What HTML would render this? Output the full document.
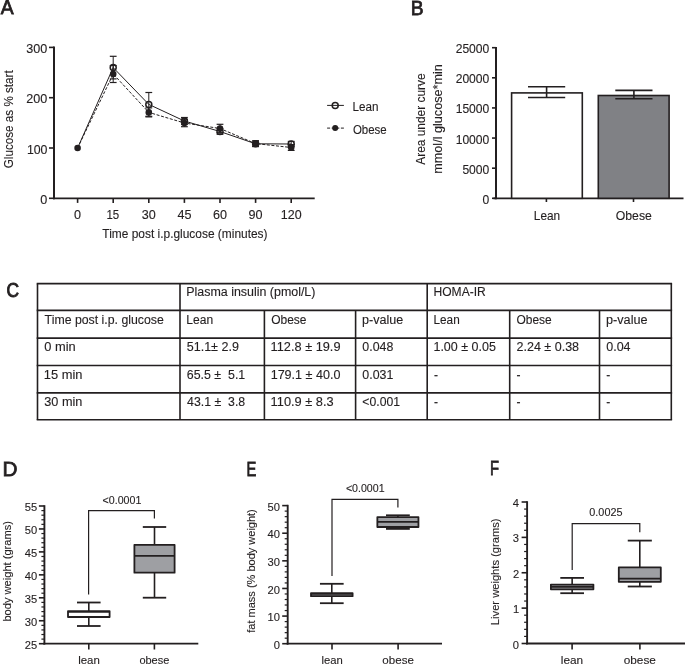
<!DOCTYPE html>
<html><head><meta charset="utf-8"><style>
html,body{margin:0;padding:0;background:#fff;overflow:hidden;}
svg{display:block;will-change:transform;font-family:"Liberation Sans",sans-serif;}
</style></head><body>
<svg width="685" height="665" viewBox="0 0 685 665">
<rect width="685" height="665" fill="#fff"/>
<line x1="54.00" y1="46.60" x2="54.00" y2="199.20" stroke="#231f20" stroke-width="2.0" />
<line x1="53.00" y1="198.30" x2="314.70" y2="198.30" stroke="#231f20" stroke-width="1.8" />
<line x1="49.00" y1="198.30" x2="54.00" y2="198.30" stroke="#231f20" stroke-width="1.6" />
<line x1="49.00" y1="148.00" x2="54.00" y2="148.00" stroke="#231f20" stroke-width="1.6" />
<line x1="49.00" y1="97.70" x2="54.00" y2="97.70" stroke="#231f20" stroke-width="1.6" />
<line x1="49.00" y1="47.40" x2="54.00" y2="47.40" stroke="#231f20" stroke-width="1.6" />
<line x1="77.60" y1="198.30" x2="77.60" y2="202.90" stroke="#231f20" stroke-width="1.6" />
<line x1="113.20" y1="198.30" x2="113.20" y2="202.90" stroke="#231f20" stroke-width="1.6" />
<line x1="148.80" y1="198.30" x2="148.80" y2="202.90" stroke="#231f20" stroke-width="1.6" />
<line x1="184.40" y1="198.30" x2="184.40" y2="202.90" stroke="#231f20" stroke-width="1.6" />
<line x1="220.00" y1="198.30" x2="220.00" y2="202.90" stroke="#231f20" stroke-width="1.6" />
<line x1="255.60" y1="198.30" x2="255.60" y2="202.90" stroke="#231f20" stroke-width="1.6" />
<line x1="291.20" y1="198.30" x2="291.20" y2="202.90" stroke="#231f20" stroke-width="1.6" />
<line x1="113.20" y1="56.30" x2="113.20" y2="78.90" stroke="#231f20" stroke-width="1.0" />
<line x1="109.80" y1="56.30" x2="116.60" y2="56.30" stroke="#231f20" stroke-width="1.2" />
<line x1="109.80" y1="78.90" x2="116.60" y2="78.90" stroke="#231f20" stroke-width="1.2" />
<line x1="113.20" y1="65.50" x2="113.20" y2="82.50" stroke="#231f20" stroke-width="1.0" />
<line x1="109.80" y1="65.50" x2="116.60" y2="65.50" stroke="#231f20" stroke-width="1.2" />
<line x1="109.80" y1="82.50" x2="116.60" y2="82.50" stroke="#231f20" stroke-width="1.2" />
<line x1="148.80" y1="92.50" x2="148.80" y2="116.30" stroke="#231f20" stroke-width="1.0" />
<line x1="145.40" y1="92.50" x2="152.20" y2="92.50" stroke="#231f20" stroke-width="1.2" />
<line x1="145.40" y1="116.30" x2="152.20" y2="116.30" stroke="#231f20" stroke-width="1.2" />
<line x1="148.80" y1="107.90" x2="148.80" y2="116.90" stroke="#231f20" stroke-width="1.0" />
<line x1="145.40" y1="107.90" x2="152.20" y2="107.90" stroke="#231f20" stroke-width="1.2" />
<line x1="145.40" y1="116.90" x2="152.20" y2="116.90" stroke="#231f20" stroke-width="1.2" />
<line x1="184.40" y1="117.50" x2="184.40" y2="124.50" stroke="#231f20" stroke-width="1.0" />
<line x1="181.00" y1="117.50" x2="187.80" y2="117.50" stroke="#231f20" stroke-width="1.2" />
<line x1="181.00" y1="124.50" x2="187.80" y2="124.50" stroke="#231f20" stroke-width="1.2" />
<line x1="184.40" y1="119.30" x2="184.40" y2="126.70" stroke="#231f20" stroke-width="1.0" />
<line x1="181.00" y1="119.30" x2="187.80" y2="119.30" stroke="#231f20" stroke-width="1.2" />
<line x1="181.00" y1="126.70" x2="187.80" y2="126.70" stroke="#231f20" stroke-width="1.2" />
<line x1="220.00" y1="128.70" x2="220.00" y2="134.30" stroke="#231f20" stroke-width="1.0" />
<line x1="216.60" y1="128.70" x2="223.40" y2="128.70" stroke="#231f20" stroke-width="1.2" />
<line x1="216.60" y1="134.30" x2="223.40" y2="134.30" stroke="#231f20" stroke-width="1.2" />
<line x1="220.00" y1="124.30" x2="220.00" y2="132.70" stroke="#231f20" stroke-width="1.0" />
<line x1="216.60" y1="124.30" x2="223.40" y2="124.30" stroke="#231f20" stroke-width="1.2" />
<line x1="216.60" y1="132.70" x2="223.40" y2="132.70" stroke="#231f20" stroke-width="1.2" />
<line x1="255.60" y1="141.00" x2="255.60" y2="146.60" stroke="#231f20" stroke-width="1.0" />
<line x1="252.20" y1="141.00" x2="259.00" y2="141.00" stroke="#231f20" stroke-width="1.2" />
<line x1="252.20" y1="146.60" x2="259.00" y2="146.60" stroke="#231f20" stroke-width="1.2" />
<line x1="255.60" y1="140.80" x2="255.60" y2="146.40" stroke="#231f20" stroke-width="1.0" />
<line x1="252.20" y1="140.80" x2="259.00" y2="140.80" stroke="#231f20" stroke-width="1.2" />
<line x1="252.20" y1="146.40" x2="259.00" y2="146.40" stroke="#231f20" stroke-width="1.2" />
<line x1="291.20" y1="141.40" x2="291.20" y2="146.60" stroke="#231f20" stroke-width="1.0" />
<line x1="287.80" y1="141.40" x2="294.60" y2="141.40" stroke="#231f20" stroke-width="1.2" />
<line x1="287.80" y1="146.60" x2="294.60" y2="146.60" stroke="#231f20" stroke-width="1.2" />
<line x1="291.20" y1="144.60" x2="291.20" y2="150.40" stroke="#231f20" stroke-width="1.0" />
<line x1="287.80" y1="144.60" x2="294.60" y2="144.60" stroke="#231f20" stroke-width="1.2" />
<line x1="287.80" y1="150.40" x2="294.60" y2="150.40" stroke="#231f20" stroke-width="1.2" />
<polyline fill="none" stroke="#231f20" stroke-width="1.0" stroke-dasharray="3,1.6" points="77.60,148.00 113.20,74.00 148.80,112.40 184.40,123.00 220.00,128.50 255.60,143.60 291.20,147.50"/>
<polyline fill="none" stroke="#231f20" stroke-width="1.0" points="77.60,148.00 113.20,67.60 148.80,104.40 184.40,121.00 220.00,131.50 255.60,143.80 291.20,144.00"/>
<circle cx="77.60" cy="148.00" r="3.3" fill="#231f20"/>
<circle cx="113.20" cy="74.00" r="3.3" fill="#231f20"/>
<circle cx="148.80" cy="112.40" r="3.3" fill="#231f20"/>
<circle cx="184.40" cy="123.00" r="3.3" fill="#231f20"/>
<circle cx="220.00" cy="128.50" r="3.3" fill="#231f20"/>
<circle cx="255.60" cy="143.60" r="3.3" fill="#231f20"/>
<circle cx="291.20" cy="147.50" r="3.3" fill="#231f20"/>
<circle cx="113.20" cy="67.60" r="3.0" fill="none" stroke="#231f20" stroke-width="1.5"/>
<circle cx="148.80" cy="104.40" r="3.0" fill="none" stroke="#231f20" stroke-width="1.5"/>
<circle cx="184.40" cy="121.00" r="3.0" fill="none" stroke="#231f20" stroke-width="1.5"/>
<circle cx="220.00" cy="131.50" r="3.0" fill="none" stroke="#231f20" stroke-width="1.5"/>
<circle cx="255.60" cy="143.80" r="3.0" fill="none" stroke="#231f20" stroke-width="1.5"/>
<circle cx="291.20" cy="144.00" r="3.0" fill="none" stroke="#231f20" stroke-width="1.5"/>
<line x1="327.10" y1="105.40" x2="343.90" y2="105.40" stroke="#231f20" stroke-width="1.0" />
<circle cx="335.2" cy="105.4" r="3.0" fill="none" stroke="#231f20" stroke-width="1.5"/>
<line x1="327.10" y1="128.10" x2="343.90" y2="128.10" stroke="#231f20" stroke-width="1.0" stroke-dasharray="3,1.6"/>
<circle cx="335.2" cy="128.1" r="3.0" fill="#231f20"/>
<line x1="496.00" y1="46.90" x2="496.00" y2="199.20" stroke="#231f20" stroke-width="2.0" />
<line x1="493.50" y1="198.30" x2="683.50" y2="198.30" stroke="#231f20" stroke-width="1.8" />
<line x1="492.00" y1="198.30" x2="496.00" y2="198.30" stroke="#231f20" stroke-width="1.6" />
<line x1="492.00" y1="168.18" x2="496.00" y2="168.18" stroke="#231f20" stroke-width="1.6" />
<line x1="492.00" y1="138.06" x2="496.00" y2="138.06" stroke="#231f20" stroke-width="1.6" />
<line x1="492.00" y1="107.94" x2="496.00" y2="107.94" stroke="#231f20" stroke-width="1.6" />
<line x1="492.00" y1="77.82" x2="496.00" y2="77.82" stroke="#231f20" stroke-width="1.6" />
<line x1="492.00" y1="47.70" x2="496.00" y2="47.70" stroke="#231f20" stroke-width="1.6" />
<line x1="546.40" y1="198.30" x2="546.40" y2="202.00" stroke="#231f20" stroke-width="1.6" />
<line x1="633.50" y1="198.30" x2="633.50" y2="202.00" stroke="#231f20" stroke-width="1.6" />
<rect x="511.6" y="92.9" width="70.7" height="105.40" fill="#fff" stroke="#231f20" stroke-width="1.6"/>
<rect x="598.3" y="95.5" width="70.8" height="102.80" fill="#808185" stroke="#231f20" stroke-width="1.6"/>
<line x1="546.60" y1="86.80" x2="546.60" y2="97.50" stroke="#231f20" stroke-width="1.6" />
<line x1="528.00" y1="86.80" x2="565.20" y2="86.80" stroke="#231f20" stroke-width="1.6" />
<line x1="528.00" y1="97.50" x2="565.20" y2="97.50" stroke="#231f20" stroke-width="1.6" />
<line x1="633.90" y1="90.40" x2="633.90" y2="98.80" stroke="#231f20" stroke-width="1.6" />
<line x1="615.30" y1="90.40" x2="652.50" y2="90.40" stroke="#231f20" stroke-width="1.6" />
<line x1="615.30" y1="98.80" x2="652.50" y2="98.80" stroke="#231f20" stroke-width="1.6" />
<line x1="36.70" y1="283.60" x2="672.10" y2="283.60" stroke="#231f20" stroke-width="1.6" />
<line x1="36.70" y1="310.40" x2="672.10" y2="310.40" stroke="#231f20" stroke-width="1.6" />
<line x1="36.70" y1="338.10" x2="672.10" y2="338.10" stroke="#231f20" stroke-width="1.6" />
<line x1="36.70" y1="365.50" x2="672.10" y2="365.50" stroke="#231f20" stroke-width="1.6" />
<line x1="36.70" y1="392.90" x2="672.10" y2="392.90" stroke="#231f20" stroke-width="1.6" />
<line x1="36.70" y1="419.80" x2="672.10" y2="419.80" stroke="#231f20" stroke-width="1.6" />
<line x1="37.50" y1="283.60" x2="37.50" y2="419.80" stroke="#231f20" stroke-width="1.6" />
<line x1="180.00" y1="283.60" x2="180.00" y2="419.80" stroke="#231f20" stroke-width="1.6" />
<line x1="264.40" y1="310.40" x2="264.40" y2="419.80" stroke="#231f20" stroke-width="1.6" />
<line x1="355.60" y1="310.40" x2="355.60" y2="419.80" stroke="#231f20" stroke-width="1.6" />
<line x1="427.20" y1="283.60" x2="427.20" y2="419.80" stroke="#231f20" stroke-width="1.6" />
<line x1="509.70" y1="310.40" x2="509.70" y2="419.80" stroke="#231f20" stroke-width="1.6" />
<line x1="599.50" y1="310.40" x2="599.50" y2="419.80" stroke="#231f20" stroke-width="1.6" />
<line x1="671.30" y1="283.60" x2="671.30" y2="419.80" stroke="#231f20" stroke-width="1.6" />
<line x1="44.40" y1="505.20" x2="44.40" y2="644.60" stroke="#231f20" stroke-width="1.9" />
<line x1="43.40" y1="643.70" x2="198.30" y2="643.70" stroke="#231f20" stroke-width="1.8" />
<line x1="38.90" y1="643.70" x2="44.40" y2="643.70" stroke="#231f20" stroke-width="1.6" />
<line x1="38.90" y1="620.75" x2="44.40" y2="620.75" stroke="#231f20" stroke-width="1.6" />
<line x1="38.90" y1="597.80" x2="44.40" y2="597.80" stroke="#231f20" stroke-width="1.6" />
<line x1="38.90" y1="574.85" x2="44.40" y2="574.85" stroke="#231f20" stroke-width="1.6" />
<line x1="38.90" y1="551.90" x2="44.40" y2="551.90" stroke="#231f20" stroke-width="1.6" />
<line x1="38.90" y1="528.95" x2="44.40" y2="528.95" stroke="#231f20" stroke-width="1.6" />
<line x1="38.90" y1="506.00" x2="44.40" y2="506.00" stroke="#231f20" stroke-width="1.6" />
<line x1="41.40" y1="639.11" x2="44.40" y2="639.11" stroke="#231f20" stroke-width="1.2" />
<line x1="41.40" y1="634.52" x2="44.40" y2="634.52" stroke="#231f20" stroke-width="1.2" />
<line x1="41.40" y1="629.93" x2="44.40" y2="629.93" stroke="#231f20" stroke-width="1.2" />
<line x1="41.40" y1="625.34" x2="44.40" y2="625.34" stroke="#231f20" stroke-width="1.2" />
<line x1="41.40" y1="616.16" x2="44.40" y2="616.16" stroke="#231f20" stroke-width="1.2" />
<line x1="41.40" y1="611.57" x2="44.40" y2="611.57" stroke="#231f20" stroke-width="1.2" />
<line x1="41.40" y1="606.98" x2="44.40" y2="606.98" stroke="#231f20" stroke-width="1.2" />
<line x1="41.40" y1="602.39" x2="44.40" y2="602.39" stroke="#231f20" stroke-width="1.2" />
<line x1="41.40" y1="593.21" x2="44.40" y2="593.21" stroke="#231f20" stroke-width="1.2" />
<line x1="41.40" y1="588.62" x2="44.40" y2="588.62" stroke="#231f20" stroke-width="1.2" />
<line x1="41.40" y1="584.03" x2="44.40" y2="584.03" stroke="#231f20" stroke-width="1.2" />
<line x1="41.40" y1="579.44" x2="44.40" y2="579.44" stroke="#231f20" stroke-width="1.2" />
<line x1="41.40" y1="570.26" x2="44.40" y2="570.26" stroke="#231f20" stroke-width="1.2" />
<line x1="41.40" y1="565.67" x2="44.40" y2="565.67" stroke="#231f20" stroke-width="1.2" />
<line x1="41.40" y1="561.08" x2="44.40" y2="561.08" stroke="#231f20" stroke-width="1.2" />
<line x1="41.40" y1="556.49" x2="44.40" y2="556.49" stroke="#231f20" stroke-width="1.2" />
<line x1="41.40" y1="547.31" x2="44.40" y2="547.31" stroke="#231f20" stroke-width="1.2" />
<line x1="41.40" y1="542.72" x2="44.40" y2="542.72" stroke="#231f20" stroke-width="1.2" />
<line x1="41.40" y1="538.13" x2="44.40" y2="538.13" stroke="#231f20" stroke-width="1.2" />
<line x1="41.40" y1="533.54" x2="44.40" y2="533.54" stroke="#231f20" stroke-width="1.2" />
<line x1="41.40" y1="524.36" x2="44.40" y2="524.36" stroke="#231f20" stroke-width="1.2" />
<line x1="41.40" y1="519.77" x2="44.40" y2="519.77" stroke="#231f20" stroke-width="1.2" />
<line x1="41.40" y1="515.18" x2="44.40" y2="515.18" stroke="#231f20" stroke-width="1.2" />
<line x1="41.40" y1="510.59" x2="44.40" y2="510.59" stroke="#231f20" stroke-width="1.2" />
<line x1="88.80" y1="643.70" x2="88.80" y2="649.50" stroke="#231f20" stroke-width="1.6" />
<line x1="154.40" y1="643.70" x2="154.40" y2="649.50" stroke="#231f20" stroke-width="1.6" />
<line x1="88.80" y1="602.50" x2="88.80" y2="611.10" stroke="#231f20" stroke-width="1.6" />
<line x1="88.80" y1="617.00" x2="88.80" y2="626.00" stroke="#231f20" stroke-width="1.6" />
<line x1="77.00" y1="602.50" x2="100.60" y2="602.50" stroke="#231f20" stroke-width="1.8" />
<line x1="77.00" y1="626.00" x2="100.60" y2="626.00" stroke="#231f20" stroke-width="1.8" />
<rect x="68.00" y="611.10" width="41.60" height="5.90" fill="#fff" stroke="#231f20" stroke-width="1.8" stroke-linejoin="round"/>
<line x1="68.00" y1="611.80" x2="109.60" y2="611.80" stroke="#231f20" stroke-width="1.8" />
<line x1="154.50" y1="527.00" x2="154.50" y2="544.86" stroke="#231f20" stroke-width="1.6" />
<line x1="154.50" y1="572.64" x2="154.50" y2="597.70" stroke="#231f20" stroke-width="1.6" />
<line x1="142.80" y1="527.00" x2="166.20" y2="527.00" stroke="#231f20" stroke-width="1.8" />
<line x1="142.80" y1="597.70" x2="166.20" y2="597.70" stroke="#231f20" stroke-width="1.8" />
<rect x="134.40" y="544.86" width="40.20" height="27.78" fill="#9e9fa3" stroke="#231f20" stroke-width="1.8" stroke-linejoin="round"/>
<line x1="134.40" y1="555.90" x2="174.60" y2="555.90" stroke="#231f20" stroke-width="1.8" />
<polyline fill="none" stroke="#231f20" stroke-width="1.2" points="88.6,594.4 88.6,510.7 154.4,510.7 154.4,518.5"/>
<line x1="287.70" y1="504.80" x2="287.70" y2="644.60" stroke="#231f20" stroke-width="1.9" />
<line x1="286.70" y1="643.70" x2="442.00" y2="643.70" stroke="#231f20" stroke-width="1.8" />
<line x1="282.20" y1="643.70" x2="287.70" y2="643.70" stroke="#231f20" stroke-width="1.6" />
<line x1="282.20" y1="616.08" x2="287.70" y2="616.08" stroke="#231f20" stroke-width="1.6" />
<line x1="282.20" y1="588.46" x2="287.70" y2="588.46" stroke="#231f20" stroke-width="1.6" />
<line x1="282.20" y1="560.84" x2="287.70" y2="560.84" stroke="#231f20" stroke-width="1.6" />
<line x1="282.20" y1="533.22" x2="287.70" y2="533.22" stroke="#231f20" stroke-width="1.6" />
<line x1="282.20" y1="505.60" x2="287.70" y2="505.60" stroke="#231f20" stroke-width="1.6" />
<line x1="284.70" y1="638.18" x2="287.70" y2="638.18" stroke="#231f20" stroke-width="1.2" />
<line x1="284.70" y1="632.65" x2="287.70" y2="632.65" stroke="#231f20" stroke-width="1.2" />
<line x1="284.70" y1="627.13" x2="287.70" y2="627.13" stroke="#231f20" stroke-width="1.2" />
<line x1="284.70" y1="621.60" x2="287.70" y2="621.60" stroke="#231f20" stroke-width="1.2" />
<line x1="284.70" y1="610.56" x2="287.70" y2="610.56" stroke="#231f20" stroke-width="1.2" />
<line x1="284.70" y1="605.03" x2="287.70" y2="605.03" stroke="#231f20" stroke-width="1.2" />
<line x1="284.70" y1="599.51" x2="287.70" y2="599.51" stroke="#231f20" stroke-width="1.2" />
<line x1="284.70" y1="593.98" x2="287.70" y2="593.98" stroke="#231f20" stroke-width="1.2" />
<line x1="284.70" y1="582.94" x2="287.70" y2="582.94" stroke="#231f20" stroke-width="1.2" />
<line x1="284.70" y1="577.41" x2="287.70" y2="577.41" stroke="#231f20" stroke-width="1.2" />
<line x1="284.70" y1="571.89" x2="287.70" y2="571.89" stroke="#231f20" stroke-width="1.2" />
<line x1="284.70" y1="566.36" x2="287.70" y2="566.36" stroke="#231f20" stroke-width="1.2" />
<line x1="284.70" y1="555.32" x2="287.70" y2="555.32" stroke="#231f20" stroke-width="1.2" />
<line x1="284.70" y1="549.79" x2="287.70" y2="549.79" stroke="#231f20" stroke-width="1.2" />
<line x1="284.70" y1="544.27" x2="287.70" y2="544.27" stroke="#231f20" stroke-width="1.2" />
<line x1="284.70" y1="538.74" x2="287.70" y2="538.74" stroke="#231f20" stroke-width="1.2" />
<line x1="284.70" y1="527.70" x2="287.70" y2="527.70" stroke="#231f20" stroke-width="1.2" />
<line x1="284.70" y1="522.17" x2="287.70" y2="522.17" stroke="#231f20" stroke-width="1.2" />
<line x1="284.70" y1="516.65" x2="287.70" y2="516.65" stroke="#231f20" stroke-width="1.2" />
<line x1="284.70" y1="511.12" x2="287.70" y2="511.12" stroke="#231f20" stroke-width="1.2" />
<line x1="332.00" y1="643.70" x2="332.00" y2="649.50" stroke="#231f20" stroke-width="1.6" />
<line x1="398.10" y1="643.70" x2="398.10" y2="649.50" stroke="#231f20" stroke-width="1.6" />
<line x1="331.80" y1="583.80" x2="331.80" y2="593.10" stroke="#231f20" stroke-width="1.6" />
<line x1="331.80" y1="596.20" x2="331.80" y2="603.20" stroke="#231f20" stroke-width="1.6" />
<line x1="319.95" y1="583.80" x2="343.65" y2="583.80" stroke="#231f20" stroke-width="1.8" />
<line x1="319.95" y1="603.20" x2="343.65" y2="603.20" stroke="#231f20" stroke-width="1.8" />
<rect x="311.00" y="593.10" width="41.60" height="3.10" fill="#9e9fa3" stroke="#231f20" stroke-width="1.8" stroke-linejoin="round"/>
<line x1="311.00" y1="593.80" x2="352.60" y2="593.80" stroke="#231f20" stroke-width="1.8" />
<line x1="397.90" y1="515.30" x2="397.90" y2="517.10" stroke="#231f20" stroke-width="1.6" />
<line x1="397.90" y1="527.00" x2="397.90" y2="528.90" stroke="#231f20" stroke-width="1.6" />
<line x1="386.00" y1="515.30" x2="409.80" y2="515.30" stroke="#231f20" stroke-width="1.8" />
<line x1="386.00" y1="528.90" x2="409.80" y2="528.90" stroke="#231f20" stroke-width="1.8" />
<rect x="377.35" y="517.10" width="41.10" height="9.90" fill="#9e9fa3" stroke="#231f20" stroke-width="1.8" stroke-linejoin="round"/>
<line x1="377.35" y1="521.90" x2="418.45" y2="521.90" stroke="#231f20" stroke-width="1.8" />
<polyline fill="none" stroke="#231f20" stroke-width="1.2" points="332,575.9 332,499.3 397.9,499.3 397.9,507.4"/>
<line x1="527.10" y1="501.20" x2="527.10" y2="644.40" stroke="#231f20" stroke-width="1.9" />
<line x1="526.10" y1="643.50" x2="685.00" y2="643.50" stroke="#231f20" stroke-width="1.8" />
<line x1="521.60" y1="643.50" x2="527.10" y2="643.50" stroke="#231f20" stroke-width="1.6" />
<line x1="521.60" y1="608.12" x2="527.10" y2="608.12" stroke="#231f20" stroke-width="1.6" />
<line x1="521.60" y1="572.75" x2="527.10" y2="572.75" stroke="#231f20" stroke-width="1.6" />
<line x1="521.60" y1="537.38" x2="527.10" y2="537.38" stroke="#231f20" stroke-width="1.6" />
<line x1="521.60" y1="502.00" x2="527.10" y2="502.00" stroke="#231f20" stroke-width="1.6" />
<line x1="524.10" y1="636.42" x2="527.10" y2="636.42" stroke="#231f20" stroke-width="1.2" />
<line x1="524.10" y1="629.35" x2="527.10" y2="629.35" stroke="#231f20" stroke-width="1.2" />
<line x1="524.10" y1="622.27" x2="527.10" y2="622.27" stroke="#231f20" stroke-width="1.2" />
<line x1="524.10" y1="615.20" x2="527.10" y2="615.20" stroke="#231f20" stroke-width="1.2" />
<line x1="524.10" y1="601.05" x2="527.10" y2="601.05" stroke="#231f20" stroke-width="1.2" />
<line x1="524.10" y1="593.98" x2="527.10" y2="593.98" stroke="#231f20" stroke-width="1.2" />
<line x1="524.10" y1="586.90" x2="527.10" y2="586.90" stroke="#231f20" stroke-width="1.2" />
<line x1="524.10" y1="579.83" x2="527.10" y2="579.83" stroke="#231f20" stroke-width="1.2" />
<line x1="524.10" y1="565.67" x2="527.10" y2="565.67" stroke="#231f20" stroke-width="1.2" />
<line x1="524.10" y1="558.60" x2="527.10" y2="558.60" stroke="#231f20" stroke-width="1.2" />
<line x1="524.10" y1="551.52" x2="527.10" y2="551.52" stroke="#231f20" stroke-width="1.2" />
<line x1="524.10" y1="544.45" x2="527.10" y2="544.45" stroke="#231f20" stroke-width="1.2" />
<line x1="524.10" y1="530.30" x2="527.10" y2="530.30" stroke="#231f20" stroke-width="1.2" />
<line x1="524.10" y1="523.23" x2="527.10" y2="523.23" stroke="#231f20" stroke-width="1.2" />
<line x1="524.10" y1="516.15" x2="527.10" y2="516.15" stroke="#231f20" stroke-width="1.2" />
<line x1="524.10" y1="509.08" x2="527.10" y2="509.08" stroke="#231f20" stroke-width="1.2" />
<line x1="572.10" y1="643.50" x2="572.10" y2="649.50" stroke="#231f20" stroke-width="1.6" />
<line x1="639.90" y1="643.50" x2="639.90" y2="649.50" stroke="#231f20" stroke-width="1.6" />
<line x1="572.15" y1="577.90" x2="572.15" y2="584.60" stroke="#231f20" stroke-width="1.6" />
<line x1="572.15" y1="589.30" x2="572.15" y2="593.20" stroke="#231f20" stroke-width="1.6" />
<line x1="560.30" y1="577.90" x2="584.00" y2="577.90" stroke="#231f20" stroke-width="1.8" />
<line x1="560.30" y1="593.20" x2="584.00" y2="593.20" stroke="#231f20" stroke-width="1.8" />
<rect x="550.90" y="584.60" width="42.50" height="4.70" fill="#9e9fa3" stroke="#231f20" stroke-width="1.8" stroke-linejoin="round"/>
<line x1="550.90" y1="586.95" x2="593.40" y2="586.95" stroke="#231f20" stroke-width="1.8" />
<line x1="639.80" y1="540.60" x2="639.80" y2="567.40" stroke="#231f20" stroke-width="1.6" />
<line x1="639.80" y1="581.80" x2="639.80" y2="586.50" stroke="#231f20" stroke-width="1.6" />
<line x1="627.75" y1="540.60" x2="651.85" y2="540.60" stroke="#231f20" stroke-width="1.8" />
<line x1="627.75" y1="586.50" x2="651.85" y2="586.50" stroke="#231f20" stroke-width="1.8" />
<rect x="618.80" y="567.40" width="42.00" height="14.40" fill="#9e9fa3" stroke="#231f20" stroke-width="1.8" stroke-linejoin="round"/>
<line x1="618.80" y1="578.60" x2="660.80" y2="578.60" stroke="#231f20" stroke-width="1.8" />
<polyline fill="none" stroke="#231f20" stroke-width="1.2" points="572.2,569.9 572.2,523.6 639.8,523.6 639.8,532.3"/>
<text transform="translate(0.66,14.41) scale(0.9200,0.9806)" x="0" y="0" font-size="21" font-weight="normal" fill="#231f20" stroke="#231f20" stroke-width="0.8" xml:space="preserve">A</text>
<text transform="translate(410.75,14.51) scale(0.9167,0.9806)" x="0" y="0" font-size="21" font-weight="normal" fill="#231f20" stroke="#231f20" stroke-width="0.8" xml:space="preserve">B</text>
<text transform="translate(6.49,297.15) scale(0.8276,0.9937)" x="0" y="0" font-size="21" font-weight="normal" fill="#231f20" stroke="#231f20" stroke-width="1.0" xml:space="preserve">C</text>
<text transform="translate(2.56,475.71) scale(0.9887,0.9806)" x="0" y="0" font-size="21" font-weight="normal" fill="#231f20" stroke="#231f20" stroke-width="0.8" xml:space="preserve">D</text>
<text transform="translate(246.52,475.71) scale(0.7020,0.9742)" x="0" y="0" font-size="21" font-weight="normal" fill="#231f20" stroke="#231f20" stroke-width="0.8" xml:space="preserve">E</text>
<text transform="translate(490.12,474.51) scale(0.7022,0.9806)" x="0" y="0" font-size="21" font-weight="normal" fill="#231f20" stroke="#231f20" stroke-width="0.8" xml:space="preserve">F</text>
<text x="40.30" y="203.80" font-size="12.6" font-weight="normal" fill="#231f20" stroke="#231f20" stroke-width="0.12" xml:space="preserve" textLength="7.02" lengthAdjust="spacingAndGlyphs">0</text>
<text x="26.92" y="153.60" font-size="12.6" font-weight="normal" fill="#231f20" stroke="#231f20" stroke-width="0.12" xml:space="preserve" textLength="20.58" lengthAdjust="spacingAndGlyphs">100</text>
<text x="26.30" y="103.20" font-size="12.6" font-weight="normal" fill="#231f20" stroke="#231f20" stroke-width="0.12" xml:space="preserve" textLength="21.02" lengthAdjust="spacingAndGlyphs">200</text>
<text x="26.30" y="52.90" font-size="12.6" font-weight="normal" fill="#231f20" stroke="#231f20" stroke-width="0.12" xml:space="preserve" textLength="21.02" lengthAdjust="spacingAndGlyphs">300</text>
<text x="74.10" y="219.00" font-size="12.6" font-weight="normal" fill="#231f20" stroke="#231f20" stroke-width="0.12" xml:space="preserve" textLength="7.02" lengthAdjust="spacingAndGlyphs">0</text>
<text x="106.49" y="219.00" font-size="12.6" font-weight="normal" fill="#231f20" stroke="#231f20" stroke-width="0.12" xml:space="preserve" textLength="12.78" lengthAdjust="spacingAndGlyphs">15</text>
<text x="141.80" y="219.00" font-size="12.6" font-weight="normal" fill="#231f20" stroke="#231f20" stroke-width="0.12" xml:space="preserve" textLength="14.02" lengthAdjust="spacingAndGlyphs">30</text>
<text x="177.53" y="219.00" font-size="12.6" font-weight="normal" fill="#231f20" stroke="#231f20" stroke-width="0.12" xml:space="preserve" textLength="14.02" lengthAdjust="spacingAndGlyphs">45</text>
<text x="212.88" y="219.00" font-size="12.6" font-weight="normal" fill="#231f20" stroke="#231f20" stroke-width="0.12" xml:space="preserve" textLength="14.02" lengthAdjust="spacingAndGlyphs">60</text>
<text x="248.60" y="219.00" font-size="12.6" font-weight="normal" fill="#231f20" stroke="#231f20" stroke-width="0.12" xml:space="preserve" textLength="14.02" lengthAdjust="spacingAndGlyphs">90</text>
<text x="280.81" y="219.00" font-size="12.6" font-weight="normal" fill="#231f20" stroke="#231f20" stroke-width="0.12" xml:space="preserve" textLength="20.80" lengthAdjust="spacingAndGlyphs">120</text>
<text x="102.37" y="238.00" font-size="13" font-weight="normal" fill="#231f20" stroke="#231f20" stroke-width="0.12" xml:space="preserve" textLength="165.15" lengthAdjust="spacingAndGlyphs">Time post i.p.glucose (minutes)</text>
<text transform="translate(13.20,167.60) rotate(-90)" x="-0.67" y="0" font-size="13" font-weight="normal" fill="#231f20" stroke="#231f20" stroke-width="0.12" xml:space="preserve" textLength="97.97" lengthAdjust="spacingAndGlyphs">Glucose as % start</text>
<text x="352.47" y="110.60" font-size="12.5" font-weight="normal" fill="#231f20" stroke="#231f20" stroke-width="0.12" xml:space="preserve" textLength="25.99" lengthAdjust="spacingAndGlyphs">Lean</text>
<text x="352.94" y="133.60" font-size="12.5" font-weight="normal" fill="#231f20" stroke="#231f20" stroke-width="0.12" xml:space="preserve" textLength="33.80" lengthAdjust="spacingAndGlyphs">Obese</text>
<text x="482.56" y="203.80" font-size="12.6" font-weight="normal" fill="#231f20" stroke="#231f20" stroke-width="0.12" xml:space="preserve" textLength="6.73" lengthAdjust="spacingAndGlyphs">0</text>
<text x="462.40" y="173.68" font-size="12.6" font-weight="normal" fill="#231f20" stroke="#231f20" stroke-width="0.12" xml:space="preserve" textLength="26.91" lengthAdjust="spacingAndGlyphs">5000</text>
<text x="455.68" y="143.56" font-size="12.6" font-weight="normal" fill="#231f20" stroke="#231f20" stroke-width="0.12" xml:space="preserve" textLength="33.63" lengthAdjust="spacingAndGlyphs">10000</text>
<text x="455.68" y="113.44" font-size="12.6" font-weight="normal" fill="#231f20" stroke="#231f20" stroke-width="0.12" xml:space="preserve" textLength="33.63" lengthAdjust="spacingAndGlyphs">15000</text>
<text x="455.68" y="83.32" font-size="12.6" font-weight="normal" fill="#231f20" stroke="#231f20" stroke-width="0.12" xml:space="preserve" textLength="33.63" lengthAdjust="spacingAndGlyphs">20000</text>
<text x="455.68" y="53.20" font-size="12.6" font-weight="normal" fill="#231f20" stroke="#231f20" stroke-width="0.12" xml:space="preserve" textLength="33.63" lengthAdjust="spacingAndGlyphs">25000</text>
<text x="533.83" y="219.90" font-size="12.2" font-weight="normal" fill="#231f20" stroke="#231f20" stroke-width="0.12" xml:space="preserve" textLength="26.32" lengthAdjust="spacingAndGlyphs">Lean</text>
<text x="615.70" y="219.90" font-size="12.2" font-weight="normal" fill="#231f20" stroke="#231f20" stroke-width="0.12" xml:space="preserve" textLength="36.18" lengthAdjust="spacingAndGlyphs">Obese</text>
<text transform="translate(424.80,164.70) rotate(-90)" x="-0.00" y="0" font-size="12.6" font-weight="normal" fill="#231f20" stroke="#231f20" stroke-width="0.12" xml:space="preserve" textLength="91.28" lengthAdjust="spacingAndGlyphs">Area under curve</text>
<text transform="translate(442.00,173.00) rotate(-90)" x="-0.75" y="0" font-size="12.6" font-weight="normal" fill="#231f20" stroke="#231f20" stroke-width="0.12" xml:space="preserve" textLength="109.54" lengthAdjust="spacingAndGlyphs">mmol/l glucose*min</text>
<text x="186.26" y="295.80" font-size="12" font-weight="normal" fill="#231f20" stroke="#231f20" stroke-width="0.12" xml:space="preserve" textLength="129.18" lengthAdjust="spacingAndGlyphs">Plasma insulin (pmol/L)</text>
<text x="433.50" y="295.80" font-size="12" font-weight="normal" fill="#231f20" stroke="#231f20" stroke-width="0.12" xml:space="preserve" textLength="52.26" lengthAdjust="spacingAndGlyphs">HOMA-IR</text>
<text x="44.64" y="323.80" font-size="12" font-weight="normal" fill="#231f20" stroke="#231f20" stroke-width="0.12" xml:space="preserve" textLength="119.20" lengthAdjust="spacingAndGlyphs">Time post i.p. glucose</text>
<text x="186.30" y="323.80" font-size="12" font-weight="normal" fill="#231f20" stroke="#231f20" stroke-width="0.12" xml:space="preserve" textLength="26.81" lengthAdjust="spacingAndGlyphs">Lean</text>
<text x="271.20" y="323.80" font-size="12" font-weight="normal" fill="#231f20" stroke="#231f20" stroke-width="0.12" xml:space="preserve" textLength="35.31" lengthAdjust="spacingAndGlyphs">Obese</text>
<text x="362.11" y="323.80" font-size="12" font-weight="normal" fill="#231f20" stroke="#231f20" stroke-width="0.12" xml:space="preserve" textLength="41.22" lengthAdjust="spacingAndGlyphs">p-value</text>
<text x="433.52" y="323.80" font-size="12" font-weight="normal" fill="#231f20" stroke="#231f20" stroke-width="0.12" xml:space="preserve" textLength="26.17" lengthAdjust="spacingAndGlyphs">Lean</text>
<text x="516.50" y="323.80" font-size="12" font-weight="normal" fill="#231f20" stroke="#231f20" stroke-width="0.12" xml:space="preserve" textLength="35.20" lengthAdjust="spacingAndGlyphs">Obese</text>
<text x="606.01" y="323.80" font-size="12" font-weight="normal" fill="#231f20" stroke="#231f20" stroke-width="0.12" xml:space="preserve" textLength="41.53" lengthAdjust="spacingAndGlyphs">p-value</text>
<text x="44.26" y="351.10" font-size="12" font-weight="normal" fill="#231f20" stroke="#231f20" stroke-width="0.12" xml:space="preserve" textLength="31.44" lengthAdjust="spacingAndGlyphs">0 min</text>
<text x="186.78" y="351.10" font-size="12" font-weight="normal" fill="#231f20" stroke="#231f20" stroke-width="0.12" xml:space="preserve" textLength="52.11" lengthAdjust="spacingAndGlyphs">51.1± 2.9</text>
<text x="270.64" y="351.10" font-size="12" font-weight="normal" fill="#231f20" stroke="#231f20" stroke-width="0.12" xml:space="preserve" textLength="69.89" lengthAdjust="spacingAndGlyphs">112.8 ± 19.9</text>
<text x="362.38" y="351.10" font-size="12" font-weight="normal" fill="#231f20" stroke="#231f20" stroke-width="0.12" xml:space="preserve" textLength="30.96" lengthAdjust="spacingAndGlyphs">0.048</text>
<text x="433.46" y="351.10" font-size="12" font-weight="normal" fill="#231f20" stroke="#231f20" stroke-width="0.12" xml:space="preserve" textLength="62.43" lengthAdjust="spacingAndGlyphs">1.00 ± 0.05</text>
<text x="516.48" y="351.10" font-size="12" font-weight="normal" fill="#231f20" stroke="#231f20" stroke-width="0.12" xml:space="preserve" textLength="62.61" lengthAdjust="spacingAndGlyphs">2.24 ± 0.38</text>
<text x="606.28" y="351.10" font-size="12" font-weight="normal" fill="#231f20" stroke="#231f20" stroke-width="0.12" xml:space="preserve" textLength="24.29" lengthAdjust="spacingAndGlyphs">0.04</text>
<text x="43.73" y="378.50" font-size="12" font-weight="normal" fill="#231f20" stroke="#231f20" stroke-width="0.12" xml:space="preserve" textLength="38.71" lengthAdjust="spacingAndGlyphs">15 min</text>
<text x="186.78" y="378.50" font-size="12" font-weight="normal" fill="#231f20" stroke="#231f20" stroke-width="0.12" xml:space="preserve" textLength="58.46" lengthAdjust="spacingAndGlyphs">65.5 ±  5.1</text>
<text x="270.65" y="378.50" font-size="12" font-weight="normal" fill="#231f20" stroke="#231f20" stroke-width="0.12" xml:space="preserve" textLength="69.76" lengthAdjust="spacingAndGlyphs">179.1 ± 40.0</text>
<text x="362.38" y="378.50" font-size="12" font-weight="normal" fill="#231f20" stroke="#231f20" stroke-width="0.12" xml:space="preserve" textLength="30.96" lengthAdjust="spacingAndGlyphs">0.031</text>
<text x="434.00" y="378.50" font-size="12" font-weight="normal" fill="#231f20" stroke="#231f20" stroke-width="0.12" xml:space="preserve" textLength="4.00" lengthAdjust="spacingAndGlyphs">-</text>
<text x="516.50" y="378.50" font-size="12" font-weight="normal" fill="#231f20" stroke="#231f20" stroke-width="0.12" xml:space="preserve" textLength="4.00" lengthAdjust="spacingAndGlyphs">-</text>
<text x="606.30" y="378.50" font-size="12" font-weight="normal" fill="#231f20" stroke="#231f20" stroke-width="0.12" xml:space="preserve" textLength="4.00" lengthAdjust="spacingAndGlyphs">-</text>
<text x="44.27" y="405.80" font-size="12" font-weight="normal" fill="#231f20" stroke="#231f20" stroke-width="0.12" xml:space="preserve" textLength="38.16" lengthAdjust="spacingAndGlyphs">30 min</text>
<text x="187.04" y="405.80" font-size="12" font-weight="normal" fill="#231f20" stroke="#231f20" stroke-width="0.12" xml:space="preserve" textLength="58.20" lengthAdjust="spacingAndGlyphs">43.1 ±  3.8</text>
<text x="270.63" y="405.80" font-size="12" font-weight="normal" fill="#231f20" stroke="#231f20" stroke-width="0.12" xml:space="preserve" textLength="62.98" lengthAdjust="spacingAndGlyphs">110.9 ± 8.3</text>
<text x="362.39" y="405.80" font-size="12" font-weight="normal" fill="#231f20" stroke="#231f20" stroke-width="0.12" xml:space="preserve" textLength="37.66" lengthAdjust="spacingAndGlyphs">&lt;0.001</text>
<text x="434.00" y="405.80" font-size="12" font-weight="normal" fill="#231f20" stroke="#231f20" stroke-width="0.12" xml:space="preserve" textLength="4.00" lengthAdjust="spacingAndGlyphs">-</text>
<text x="516.50" y="405.80" font-size="12" font-weight="normal" fill="#231f20" stroke="#231f20" stroke-width="0.12" xml:space="preserve" textLength="4.00" lengthAdjust="spacingAndGlyphs">-</text>
<text x="606.30" y="405.80" font-size="12" font-weight="normal" fill="#231f20" stroke="#231f20" stroke-width="0.12" xml:space="preserve" textLength="4.00" lengthAdjust="spacingAndGlyphs">-</text>
<text x="24.72" y="648.80" font-size="11.5" font-weight="normal" fill="#231f20" stroke="#231f20" stroke-width="0.12" xml:space="preserve" textLength="12.41" lengthAdjust="spacingAndGlyphs">25</text>
<text x="24.72" y="625.85" font-size="11.5" font-weight="normal" fill="#231f20" stroke="#231f20" stroke-width="0.12" xml:space="preserve" textLength="12.41" lengthAdjust="spacingAndGlyphs">30</text>
<text x="24.72" y="602.90" font-size="11.5" font-weight="normal" fill="#231f20" stroke="#231f20" stroke-width="0.12" xml:space="preserve" textLength="12.41" lengthAdjust="spacingAndGlyphs">35</text>
<text x="24.72" y="579.95" font-size="11.5" font-weight="normal" fill="#231f20" stroke="#231f20" stroke-width="0.12" xml:space="preserve" textLength="12.41" lengthAdjust="spacingAndGlyphs">40</text>
<text x="24.72" y="557.00" font-size="11.5" font-weight="normal" fill="#231f20" stroke="#231f20" stroke-width="0.12" xml:space="preserve" textLength="12.41" lengthAdjust="spacingAndGlyphs">45</text>
<text x="24.72" y="534.05" font-size="11.5" font-weight="normal" fill="#231f20" stroke="#231f20" stroke-width="0.12" xml:space="preserve" textLength="12.41" lengthAdjust="spacingAndGlyphs">50</text>
<text x="24.72" y="511.10" font-size="11.5" font-weight="normal" fill="#231f20" stroke="#231f20" stroke-width="0.12" xml:space="preserve" textLength="12.41" lengthAdjust="spacingAndGlyphs">55</text>
<text x="78.15" y="663.90" font-size="11.4" font-weight="normal" fill="#231f20" stroke="#231f20" stroke-width="0.12" xml:space="preserve" textLength="21.65" lengthAdjust="spacingAndGlyphs">lean</text>
<text x="139.42" y="663.90" font-size="11.4" font-weight="normal" fill="#231f20" stroke="#231f20" stroke-width="0.12" xml:space="preserve" textLength="29.91" lengthAdjust="spacingAndGlyphs">obese</text>
<text x="102.62" y="503.90" font-size="11" font-weight="normal" fill="#231f20" stroke="#231f20" stroke-width="0.12" xml:space="preserve" textLength="38.74" lengthAdjust="spacingAndGlyphs">&lt;0.0001</text>
<text transform="translate(10.80,620.90) rotate(-90)" x="-0.72" y="0" font-size="11.5" font-weight="normal" fill="#231f20" stroke="#231f20" stroke-width="0.12" xml:space="preserve" textLength="100.59" lengthAdjust="spacingAndGlyphs">body weight (grams)</text>
<text x="273.68" y="648.80" font-size="11.5" font-weight="normal" fill="#231f20" stroke="#231f20" stroke-width="0.12" xml:space="preserve" textLength="6.21" lengthAdjust="spacingAndGlyphs">0</text>
<text x="267.62" y="621.18" font-size="11.5" font-weight="normal" fill="#231f20" stroke="#231f20" stroke-width="0.12" xml:space="preserve" textLength="12.41" lengthAdjust="spacingAndGlyphs">10</text>
<text x="267.62" y="593.56" font-size="11.5" font-weight="normal" fill="#231f20" stroke="#231f20" stroke-width="0.12" xml:space="preserve" textLength="12.41" lengthAdjust="spacingAndGlyphs">20</text>
<text x="267.62" y="565.94" font-size="11.5" font-weight="normal" fill="#231f20" stroke="#231f20" stroke-width="0.12" xml:space="preserve" textLength="12.41" lengthAdjust="spacingAndGlyphs">30</text>
<text x="267.62" y="538.32" font-size="11.5" font-weight="normal" fill="#231f20" stroke="#231f20" stroke-width="0.12" xml:space="preserve" textLength="12.41" lengthAdjust="spacingAndGlyphs">40</text>
<text x="267.62" y="510.70" font-size="11.5" font-weight="normal" fill="#231f20" stroke="#231f20" stroke-width="0.12" xml:space="preserve" textLength="12.41" lengthAdjust="spacingAndGlyphs">50</text>
<text x="321.46" y="663.90" font-size="11.4" font-weight="normal" fill="#231f20" stroke="#231f20" stroke-width="0.12" xml:space="preserve" textLength="21.33" lengthAdjust="spacingAndGlyphs">lean</text>
<text x="382.39" y="663.90" font-size="11.4" font-weight="normal" fill="#231f20" stroke="#231f20" stroke-width="0.12" xml:space="preserve" textLength="31.46" lengthAdjust="spacingAndGlyphs">obese</text>
<text x="345.92" y="492.00" font-size="11" font-weight="normal" fill="#231f20" stroke="#231f20" stroke-width="0.12" xml:space="preserve" textLength="38.64" lengthAdjust="spacingAndGlyphs">&lt;0.0001</text>
<text transform="translate(255.10,632.50) rotate(-90)" x="-0.24" y="0" font-size="11.5" font-weight="normal" fill="#231f20" stroke="#231f20" stroke-width="0.12" xml:space="preserve" textLength="123.52" lengthAdjust="spacingAndGlyphs">fat mass (% body weight)</text>
<text x="512.78" y="648.60" font-size="11.5" font-weight="normal" fill="#231f20" stroke="#231f20" stroke-width="0.12" xml:space="preserve" textLength="6.21" lengthAdjust="spacingAndGlyphs">0</text>
<text x="513.02" y="613.23" font-size="11.5" font-weight="normal" fill="#231f20" stroke="#231f20" stroke-width="0.12" xml:space="preserve" textLength="6.21" lengthAdjust="spacingAndGlyphs">1</text>
<text x="513.02" y="577.85" font-size="11.5" font-weight="normal" fill="#231f20" stroke="#231f20" stroke-width="0.12" xml:space="preserve" textLength="6.21" lengthAdjust="spacingAndGlyphs">2</text>
<text x="512.78" y="542.48" font-size="11.5" font-weight="normal" fill="#231f20" stroke="#231f20" stroke-width="0.12" xml:space="preserve" textLength="6.21" lengthAdjust="spacingAndGlyphs">3</text>
<text x="512.78" y="507.10" font-size="11.5" font-weight="normal" fill="#231f20" stroke="#231f20" stroke-width="0.12" xml:space="preserve" textLength="6.21" lengthAdjust="spacingAndGlyphs">4</text>
<text x="560.82" y="663.90" font-size="11.4" font-weight="normal" fill="#231f20" stroke="#231f20" stroke-width="0.12" xml:space="preserve" textLength="22.41" lengthAdjust="spacingAndGlyphs">lean</text>
<text x="623.68" y="663.90" font-size="11.4" font-weight="normal" fill="#231f20" stroke="#231f20" stroke-width="0.12" xml:space="preserve" textLength="32.19" lengthAdjust="spacingAndGlyphs">obese</text>
<text x="589.31" y="516.20" font-size="11" font-weight="normal" fill="#231f20" stroke="#231f20" stroke-width="0.12" xml:space="preserve" textLength="33.19" lengthAdjust="spacingAndGlyphs">0.0025</text>
<text transform="translate(499.30,624.20) rotate(-90)" x="-0.95" y="0" font-size="11.8" font-weight="normal" fill="#231f20" stroke="#231f20" stroke-width="0.12" xml:space="preserve" textLength="106.67" lengthAdjust="spacingAndGlyphs">Liver weights (grams)</text>
</svg>
</body></html>
